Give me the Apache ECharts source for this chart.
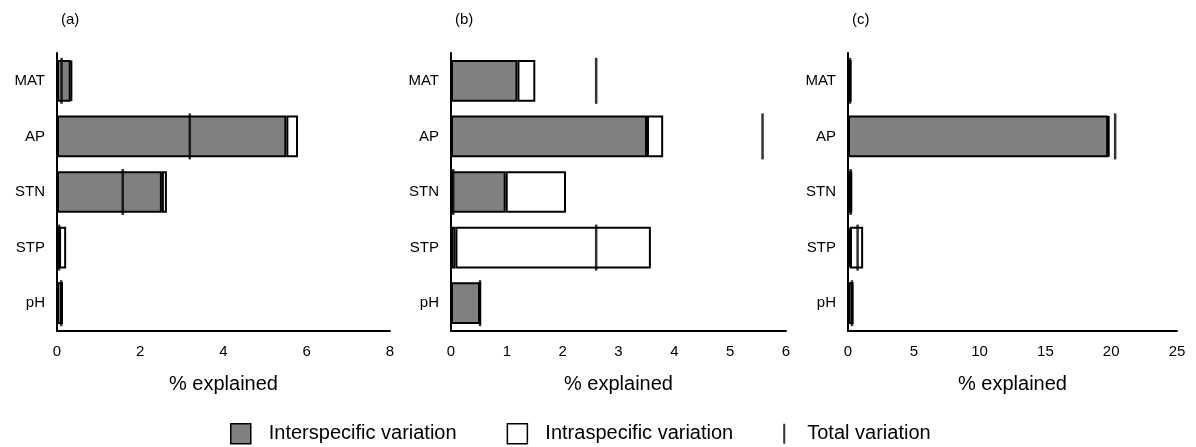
<!DOCTYPE html>
<html>
<head>
<meta charset="utf-8">
<script src="https://cdn.jsdelivr.net/npm/echarts@6/dist/echarts.min.js"></script>
<style>html,body{margin:0;padding:0;background:#fff}#c{width:1196px;height:447px}</style>
</head>
<body>
<div id="c"></div>
<script>
var categories = ['MAT', 'AP', 'STN', 'STP', 'pH'];
var panelLabels = ['(a)', '(b)', '(c)'];
var axisMax = [8, 6, 25];
var axisInterval = [2, 1, 5];

// Panel (a)
var interA = [0.33, 5.51, 2.52, 0.05, 0.12];
var intraA = [0.03, 0.28, 0.12, 0.17, 0.0];
var totalA = [0.11, 3.19, 1.58, 0.05, 0.10];
// Panel (b)
var interB = [1.19, 3.51, 0.98, 0.08, 0.52];
var intraB = [0.32, 0.29, 1.08, 3.50, 0.0];
var totalB = [2.60, 5.58, 0.04, 2.60, 0.52];
// Panel (c)
var interC = [0.2, 19.77, 0.25, 0.15, 0.35];
var intraC = [0.0, 0.08, 0.0, 1.0, 0.0];
var totalC = [0.15, 20.3, 0.2, 0.73, 0.3];

var inter = [interA, interB, interC];
var intra = [intraA, intraB, intraC];
var total = [totalA, totalB, totalC];

var FONT = "'Liberation Sans', Arial, Helvetica, sans-serif";
var grids = [
  {left: 57, width: 333, top: 53, height: 278},
  {left: 451, width: 335, top: 53, height: 278},
  {left: 848, width: 329, top: 53, height: 278}
];
var titleLeft = [56, 450, 847];

var xAxes = [], yAxes = [], series = [], titles = [];
for (var i = 0; i < 3; i++) {
  titles.push({text: panelLabels[i], left: titleLeft[i], top: 7,
    textStyle: {fontSize: 15, fontWeight: 'normal', color: '#000', fontFamily: FONT}});
  xAxes.push({
    type: 'value', gridIndex: i, min: 0, max: axisMax[i], interval: axisInterval[i],
    name: '% explained', nameLocation: 'middle', nameGap: 43,
    nameTextStyle: {fontSize: 20, color: '#000', fontFamily: FONT},
    axisLine: {show: true, lineStyle: {color: '#000', width: 2}},
    axisTick: {show: false},
    axisLabel: {fontSize: 15, color: '#000', margin: 13, fontFamily: FONT},
    splitLine: {show: false}
  });
  yAxes.push({
    type: 'category', gridIndex: i, data: categories, inverse: true,
    axisLine: {show: true, lineStyle: {color: '#000', width: 2}},
    axisTick: {show: false},
    axisLabel: {fontSize: 15, color: '#000', margin: 12, fontFamily: FONT}
  });
  series.push({
    name: 'Interspecific variation', type: 'bar', xAxisIndex: i, yAxisIndex: i,
    stack: 's' + i, barWidth: '75%', data: inter[i],
    itemStyle: {color: '#808080', borderColor: '#000', borderWidth: 2}
  });
  series.push({
    name: 'Intraspecific variation', type: 'bar', xAxisIndex: i, yAxisIndex: i,
    stack: 's' + i, barWidth: '75%', data: intra[i],
    itemStyle: {color: '#ffffff', borderColor: '#000', borderWidth: 2}
  });
  series.push({
    name: 'Total variation', type: 'scatter', xAxisIndex: i, yAxisIndex: i,
    data: total[i], symbol: 'rect', symbolSize: [2.5, 46], z: 5,
    itemStyle: {color: '#000'}
  });
}

var chart = echarts.init(document.getElementById('c'), null, {renderer: 'canvas'});
chart.setOption({
  backgroundColor: '#fff',
  animation: false,
  title: titles,
  grid: grids,
  xAxis: xAxes,
  yAxis: yAxes,
  legend: {
    left: 225, top: 418, itemWidth: 20, itemHeight: 20, itemGap: 50,
    selectedMode: false,
    textStyle: {fontSize: 20, color: '#000', fontFamily: FONT},
    data: [
      {name: 'Interspecific variation', icon: 'rect', itemStyle: {borderWidth: 1.5},
        textStyle: {padding: [0, 0, 0, 13]}},
      {name: 'Intraspecific variation', icon: 'rect', itemStyle: {borderWidth: 1.5},
        textStyle: {padding: [0, 5, 0, 13]}},
      {name: 'Total variation', icon: 'path://M0,0h1v10h-1z',
        textStyle: {padding: [0, 0, 0, 8]}}
    ]
  },
  series: series
});
</script>
</body>
</html>
